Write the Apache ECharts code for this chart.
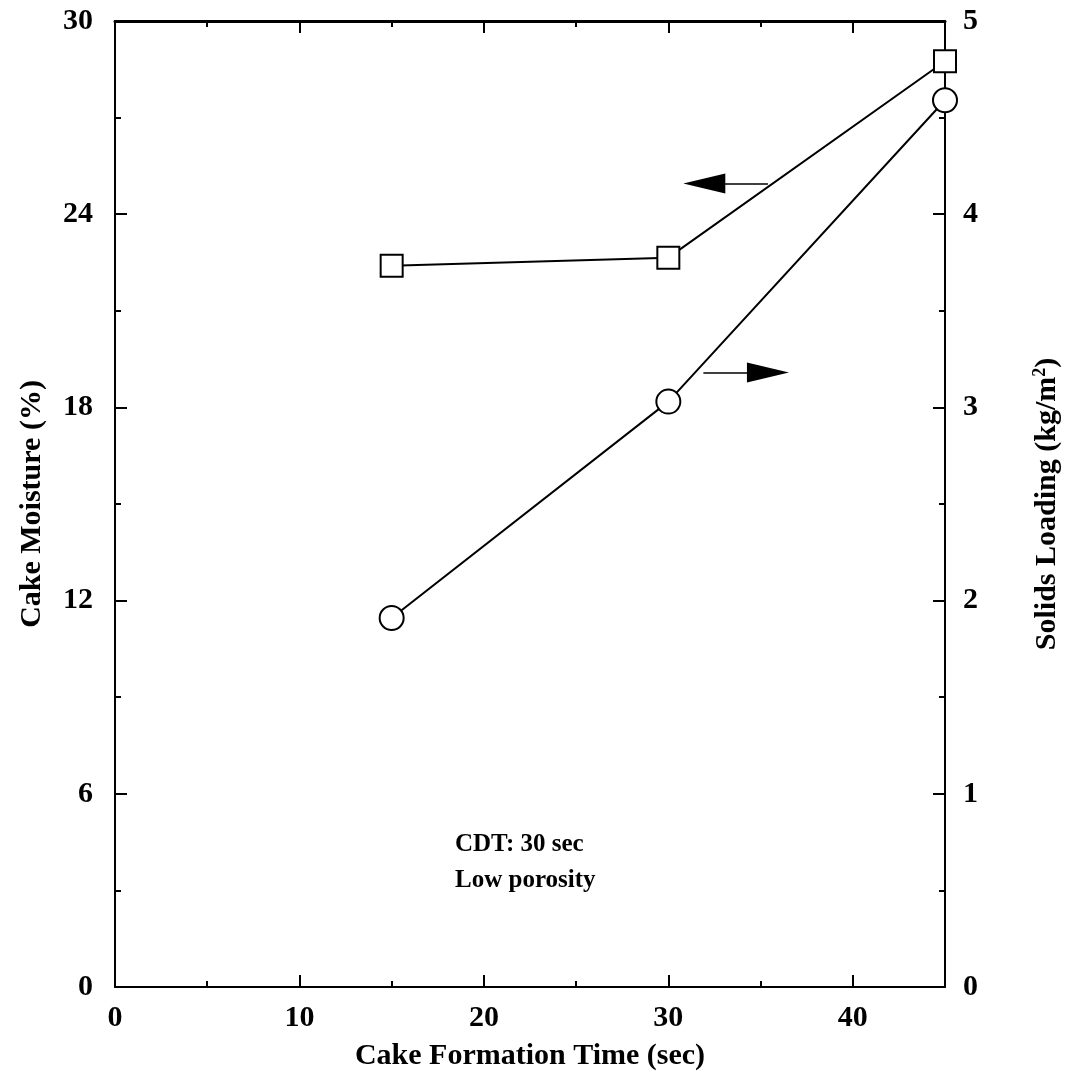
<!DOCTYPE html>
<html>
<head>
<meta charset="utf-8">
<title>Cake moisture and solids loading</title>
<script src="https://cdn.jsdelivr.net/npm/echarts@6/dist/echarts.min.js"></script>
<style>
    html, body { margin: 0; padding: 0; background: #fff; }
    #chart { width: 1074px; height: 1085px; }
</style>
</head>
<body>
<div id="chart"></div>
<script>
// data
var formationTime = [15, 30, 45];
var cakeMoisture = [22.4, 22.65, 28.75];
var solidsLoading = [1.91, 3.03, 4.59];
var xTicks = [0, 10, 20, 30, 40];
var leftTicks = [0, 6, 12, 18, 24, 30];
var rightTicks = [0, 1, 2, 3, 4, 5];

// arrows: [x, y] line start and arrowhead centre, in units of their own axis
var moistureArrow = [[35.4, 24.95], [31.95, 24.95]];
var loadingArrow = [[31.9, 3.18], [35.4, 3.18]];

var font = 'Liberation Serif, Times New Roman, serif';

function pairs(xs, ys) {
    return xs.map(function (x, i) { return [x, ys[i]]; });
}

var chart = echarts.init(document.getElementById('chart'));

var lineStyle = { color: '#000', width: 2 };
var labelStyle = { color: '#000', fontFamily: font, fontWeight: 'bold', fontSize: 30 };
var plotBox = { left: 115, right: 129, top: 21, bottom: 98 };

// axis that only draws inward ticks; one per side per grid, never snapped onto zero
function tickAxis(grid, pos, min, max, interval, len) {
    return {
        type: 'value', gridIndex: grid, position: pos, min: min, max: max, interval: interval,
        axisLine: { show: false, onZero: false },
        axisTick: { show: len > 0, inside: true, length: len, lineStyle: lineStyle },
        axisLabel: { show: false },
        splitLine: { show: false }
    };
}

var option = {
    animation: false,
    backgroundColor: '#fff',
    grid: [
        Object.assign({}, plotBox),
        Object.assign({}, plotBox),
        Object.assign({}, plotBox)
    ],
    xAxis: [
        {
            type: 'value', gridIndex: 0, position: 'bottom', min: 0, max: 45, interval: 10,
            name: 'Cake Formation Time (sec)', nameLocation: 'middle', nameGap: 54,
            nameTextStyle: labelStyle,
            axisLine: { show: true, onZero: false, lineStyle: lineStyle },
            axisTick: { inside: true, length: 12, lineStyle: lineStyle },
            axisLabel: Object.assign({ margin: 16, showMaxLabel: false,
                formatter: function (v) { return xTicks.indexOf(v) >= 0 ? v : ''; } }, labelStyle),
            splitLine: { show: false }
        },
        tickAxis(1, 'bottom', 0, 45, 5, 6),
        Object.assign(tickAxis(1, 'top', 0, 45, 10, 12), {
            axisLine: { show: true, onZero: false, lineStyle: { color: '#000', width: 3 } }
        }),
        tickAxis(2, 'top', 0, 45, 5, 6)
    ],
    yAxis: [
        {
            type: 'value', gridIndex: 0, position: 'left', min: 0, max: 30, interval: 6,
            name: 'Cake Moisture (%)', nameLocation: 'middle', nameGap: 68,
            nameTextStyle: labelStyle,
            axisLine: { show: true, onZero: false, lineStyle: lineStyle },
            axisTick: { inside: true, length: 12, lineStyle: lineStyle },
            axisLabel: Object.assign({ margin: 22,
                formatter: function (v) { return leftTicks.indexOf(v) >= 0 ? v : ''; } }, labelStyle),
            splitLine: { show: false }
        },
        {
            type: 'value', gridIndex: 0, position: 'right', min: 0, max: 5, interval: 1,
            name: 'Solids Loading (kg/m{sup|2})', nameLocation: 'middle', nameGap: 86, nameRotate: 90,
            nameTextStyle: Object.assign({
                rich: { sup: { fontFamily: font, fontWeight: 'bold', fontSize: 18, verticalAlign: 'top', padding: [0, 0, 14, 0] } }
            }, labelStyle),
            axisLine: { show: true, onZero: false, lineStyle: lineStyle },
            axisTick: { inside: true, length: 12, lineStyle: lineStyle },
            axisLabel: Object.assign({ margin: 18,
                formatter: function (v) { return rightTicks.indexOf(v) >= 0 ? v : ''; } }, labelStyle),
            splitLine: { show: false }
        },
        tickAxis(1, 'left', 0, 30, 3, 6),
        tickAxis(1, 'right', 0, 5, 0.5, 6),
        tickAxis(2, 'left', 0, 30, 6, 0)
    ],
    graphic: [
        { type: 'text', left: 455, top: 832, silent: true,
          style: { text: 'CDT: 30 sec', fill: '#000', font: 'bold 25px ' + font } },
        { type: 'text', left: 455, top: 868, silent: true,
          style: { text: 'Low porosity', fill: '#000', font: 'bold 25px ' + font } }
    ],
    series: [
        {
            name: 'Cake Moisture',
            type: 'line',
            xAxisIndex: 0, yAxisIndex: 0,
            data: pairs(formationTime, cakeMoisture),
            symbol: 'rect', symbolSize: 22,
            lineStyle: lineStyle,
            itemStyle: { color: '#fff', borderColor: '#000', borderWidth: 2 },
            emphasis: { disabled: true },
            markLine: {
                silent: true, symbol: ['none', 'triangle'], symbolSize: [20, 42],
                label: { show: false },
                lineStyle: { color: '#000', width: 1.5, type: 'solid' },
                data: [[{ coord: moistureArrow[0] }, { coord: moistureArrow[1] }]]
            },
            z: 3
        },
        {
            name: 'Solids Loading',
            type: 'line',
            xAxisIndex: 0, yAxisIndex: 1,
            data: pairs(formationTime, solidsLoading),
            symbol: 'circle', symbolSize: 24,
            lineStyle: lineStyle,
            itemStyle: { color: '#fff', borderColor: '#000', borderWidth: 2 },
            emphasis: { disabled: true },
            markLine: {
                silent: true, symbol: ['none', 'triangle'], symbolSize: [20, 42],
                label: { show: false },
                lineStyle: { color: '#000', width: 1.5, type: 'solid' },
                data: [[{ coord: loadingArrow[0] }, { coord: loadingArrow[1] }]]
            },
            z: 3
        }
    ]
};
chart.setOption(option);
</script>
</body>
</html>
